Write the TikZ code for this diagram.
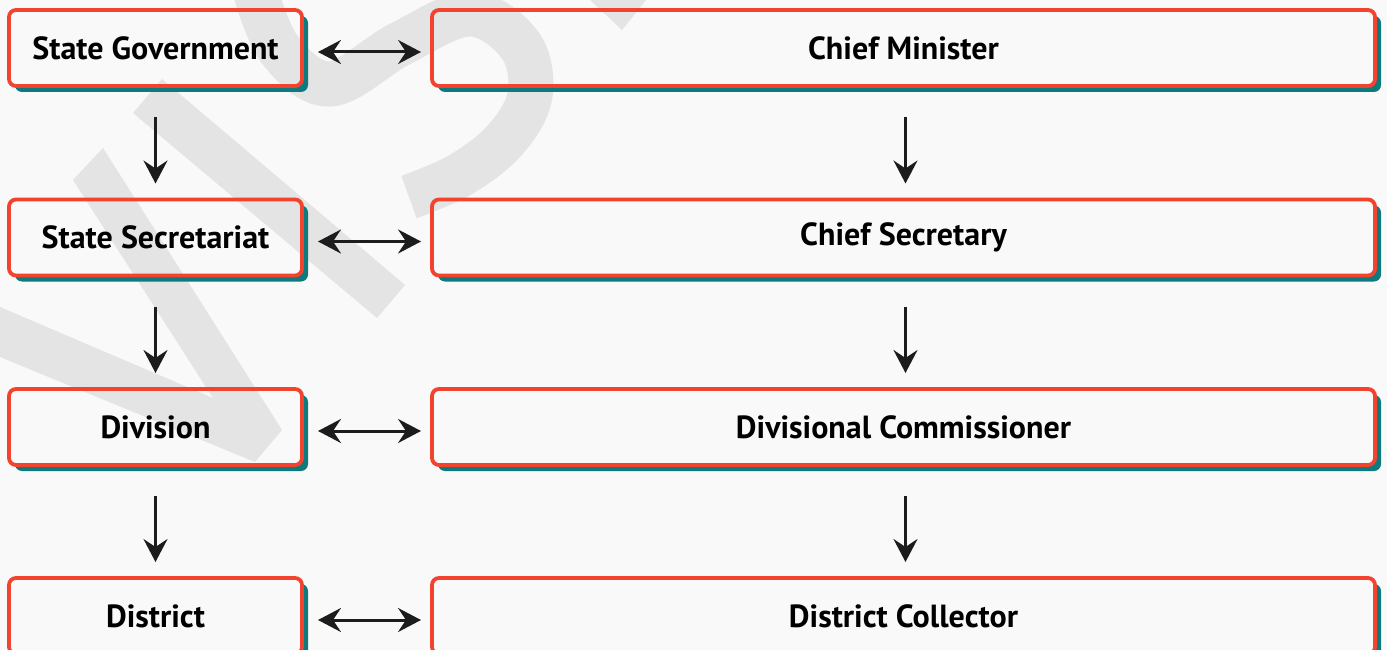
\documentclass[tikz,border=0pt]{standalone}
\usepackage{fontspec}
\setmainfont{PT Sans}
\usetikzlibrary{arrows.meta,backgrounds}
\definecolor{bgc}{HTML}{F9F9F9}
\definecolor{wmc}{HTML}{E4E4E4}
\definecolor{boxred}{HTML}{F2432F}
\definecolor{shteal}{HTML}{0F7A7D}
\definecolor{ink}{HTML}{1C1C1C}
\begin{document}
\begin{tikzpicture}[x=1pt,y=-1pt,
  box/.style={draw=boxred, line width=3.8pt, rounded corners=7pt, outer sep=0pt, inner sep=0pt,
    font=\bfseries\fontsize{32}{36}\selectfont, text=black},
  lbox/.style={box, minimum width=293pt, minimum height=76pt},
  rbox/.style={box, minimum width=943pt, minimum height=76pt},
  tipS/.tip={Stealth[length=23pt,width=24pt,inset=8pt]},
  arr/.style={line width=3pt, draw=ink, -tipS},
  darr/.style={line width=3pt, draw=ink, tipS-tipS},
  wm/.style={fill=wmc},
  shadowfill/.style={fill=shteal, even odd rule, rounded corners=7pt}
]
\useasboundingbox (0,0) rectangle (1387,650);
\clip (0,0) rectangle (1387,650);

% boxes
\node[lbox] (a1) at (155.5,48) {State Government};
\node[lbox] (a2) at (155.5,237.5) {State Secretariat};
\node[lbox] (a3) at (155.5,427) {Division};
\node[lbox] (a4) at (155.5,616) {District};
\node[rbox] (b1) at (903.5,48) {Chief Minister};
\node[rbox] (b2) at (903.5,237.5) {Chief Secretary};
\node[rbox] (b3) at (903.5,427) {Divisional Commissioner};
\node[rbox] (b4) at (903.5,616) {District Collector};

\begin{scope}[on background layer]
  \fill[bgc] (0,0) rectangle (1387,650);
  % watermark
  \fill[wm] (0,307) -- (213,398) -- (73,180) -- (103,148) -- (282,430) -- (255,462) -- (0,357) -- cycle;
  \fill[wm] (133,113) -- (162,79) -- (405,285) -- (377,318) -- cycle;
  \fill[wm] (590,0) -- (622,30) -- (646,0) -- cycle;
  \draw[wmc, line width=45pt] plot[smooth, tension=0.6] coordinates
    {(255,-10) (280,50) (330,84) (400,44) (470,14) (520,45) (530,95) (505,140) (460,175) (409,197)};
  % shadows (shifted box minus the box itself)
  \foreach \n in {a1,a2,a3,a4,b1,b2,b3,b4}{
    \begin{scope}
      \clip[rounded corners=7pt] ([shift={(6,6)}]\n.south west) rectangle ([shift={(6,6)}]\n.north east);
      \path[shadowfill] ([shift={(-20,-20)}]\n.north west) rectangle ([shift={(30,30)}]\n.south east)
        (\n.south west) rectangle (\n.north east);
    \end{scope}
  }
\end{scope}

% vertical arrows
\draw[arr] ([shift={(0,31)}]a1.south) -- ([shift={(0,-16)}]a2.north);
\draw[arr] ([shift={(0,31)}]a2.south) -- ([shift={(0,-16)}]a3.north);
\draw[arr] ([shift={(0,31)}]a3.south) -- ([shift={(0,-16)}]a4.north);
\draw[arr] ([shift={(2,31)}]b1.south) -- ([shift={(2,-16)}]b2.north);
\draw[arr] ([shift={(2,31)}]b2.south) -- ([shift={(2,-16)}]b3.north);
\draw[arr] ([shift={(2,31)}]b3.south) -- ([shift={(2,-16)}]b4.north);

% horizontal double arrows
\draw[darr] ([shift={(16,4)}]a1.east) -- ([shift={(-11,4)}]b1.west);
\draw[darr] ([shift={(16,4)}]a2.east) -- ([shift={(-11,4)}]b2.west);
\draw[darr] ([shift={(16,4)}]a3.east) -- ([shift={(-11,4)}]b3.west);
\draw[darr] ([shift={(16,4)}]a4.east) -- ([shift={(-11,4)}]b4.west);
\end{tikzpicture}
\end{document}
